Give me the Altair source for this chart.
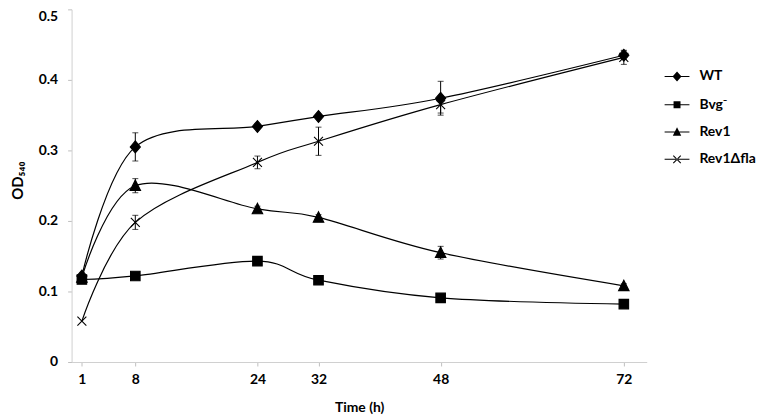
import altair as alt
import pandas as pd

# ---- data ----
time_h = [1, 8, 24, 32, 48, 72]
series_names = ["WT", "Bvg⁻", "Rev1", "Rev1Δfla"]

wt = [0.122, 0.305, 0.334, 0.348, 0.374, 0.435]
wt_err = [0.0, 0.020, 0.003, 0.003, 0.024, 0.006]
bvg = [0.117, 0.122, 0.143, 0.116, 0.091, 0.082]
bvg_err = [0.0, 0.003, 0.003, 0.003, 0.003, 0.002]
rev1 = [0.120, 0.250, 0.217, 0.205, 0.155, 0.108]
rev1_err = [0.0, 0.010, 0.004, 0.004, 0.009, 0.003]
rev1fla = [0.058, 0.198, 0.283, 0.313, 0.365, 0.432]
rev1fla_err = [0.0, 0.010, 0.009, 0.020, 0.012, 0.010]

x_ticks = [1, 8, 24, 32, 48, 72]
y_ticks = [0, 0.1, 0.2, 0.3, 0.4, 0.5]

values = [wt, bvg, rev1, rev1fla]
errors = [wt_err, bvg_err, rev1_err, rev1fla_err]

rows = []
for name, vals, errs in zip(series_names, values, errors):
    for t, v, e in zip(time_h, vals, errs):
        rows.append({"series": name, "time": t, "od": v, "err": e,
                     "lo": v - e, "hi": v + e})
df = pd.DataFrame(rows)

# marker paths (unit coordinates)
point_paths = [
    "M0,-1L0.85,0L0,1L-0.85,0Z",
    "M-0.8,-0.8H0.8V0.8H-0.8Z",
    "M0,-0.95L0.88,0.8L-0.88,0.8Z",
    "M-0.75,-0.75L0.75,0.75M-0.75,0.75L0.75,-0.75",
]
# legend symbols: thin filled bar (the line) + marker, all as filled areas
BAR = "M-1,-0.04H1V0.04H-1Z"
legend_paths = [
    BAR + "M0,-0.4L0.36,0L0,0.4L-0.36,0Z",
    BAR + "M-0.28,-0.28H0.28V0.28H-0.28Z",
    BAR + "M0,-0.38L0.34,0.3L-0.34,0.3Z",
    BAR + "M-0.33,-0.27L0.27,0.33L0.33,0.27L-0.27,-0.33Z"
          "M-0.33,0.27L-0.27,0.33L0.33,-0.27L0.27,-0.33Z",
]

FONT = "Lato"

x_enc = alt.X(
    "time:Q",
    scale=alt.Scale(domain=[-0.35, 75], nice=False, zero=False),
    axis=alt.Axis(
        values=x_ticks, title="Time (h)", grid=False,
        domainColor="#d0d0d0", tickColor="#bfbfbf", tickSize=4,
        labelFont=FONT, labelFontSize=14, labelFontWeight="bold",
        labelColor="black", labelPadding=7,
        titleFont=FONT, titleFontSize=14, titleFontWeight="bold",
        titleColor="black", titlePadding=14,
    ),
)
y_axis = alt.Axis(
    values=y_ticks, title="OD₅₄₀", grid=False, format="~g",
    domainColor="#d0d0d0", tickColor="#bfbfbf", tickSize=4,
    labelFont=FONT, labelFontSize=14, labelFontWeight="bold",
    labelColor="black", labelPadding=10,
    labelBaseline={"condition": {"test": "datum.value >= 0.5", "value": "top"},
                   "value": "middle"},
    titleFont=FONT, titleFontSize=15, titleFontWeight="bold",
    titleColor="black", titlePadding=13, titleY=172,
)
y_enc = alt.Y("od:Q", scale=alt.Scale(domain=[0, 0.5], nice=False), axis=y_axis)

base = alt.Chart(df)

lines = base.mark_line(interpolate="cardinal", color="black", strokeWidth=1.2).encode(
    x=x_enc, y=y_enc, detail="series:N"
)

err_base = base.transform_filter("datum.err > 0")
err_rule = err_base.mark_rule(color="black", strokeWidth=1).encode(
    x="time:Q", y="lo:Q", y2="hi:Q"
)
cap_lo = err_base.mark_tick(orient="horizontal", size=6, thickness=1, color="black").encode(
    x="time:Q", y="lo:Q"
)
cap_hi = err_base.mark_tick(orient="horizontal", size=6, thickness=1, color="black").encode(
    x="time:Q", y="hi:Q"
)

points = base.mark_point(filled=True, size=144, color="black", stroke="black",
                         strokeWidth=1.1, opacity=1).encode(
    x="time:Q", y="od:Q",
    shape=alt.Shape("series:N", scale=alt.Scale(domain=series_names, range=point_paths),
                    legend=None),
)

legend_layer = base.mark_point(filled=True, size=144, opacity=0, color="black").encode(
    x="time:Q", y="od:Q",
    shape=alt.Shape(
        "series:N",
        scale=alt.Scale(domain=series_names, range=legend_paths),
        legend=alt.Legend(
            title=None, orient="none", legendX=596, legendY=54, padding=0,
            symbolSize=625, labelOffset=9, rowPadding=6.5,
            labelFont=FONT, labelFontSize=14, labelFontWeight="bold",
            labelColor="black", symbolOpacity=1,
            symbolFillColor="black",
        ),
    ),
)

chart = (
    alt.layer(lines, err_rule, cap_lo, cap_hi, points, legend_layer)
    .resolve_scale(shape="independent")
    .properties(
        width=579, height=355,
        autosize=alt.AutoSizeParams(type="none"),
        padding={"left": 64, "top": 0, "right": 110, "bottom": 56},
        background="white",
    )
    .configure_view(stroke=None)
)

chart.save("out.html", embed_options={"renderer": "svg", "actions": False})
